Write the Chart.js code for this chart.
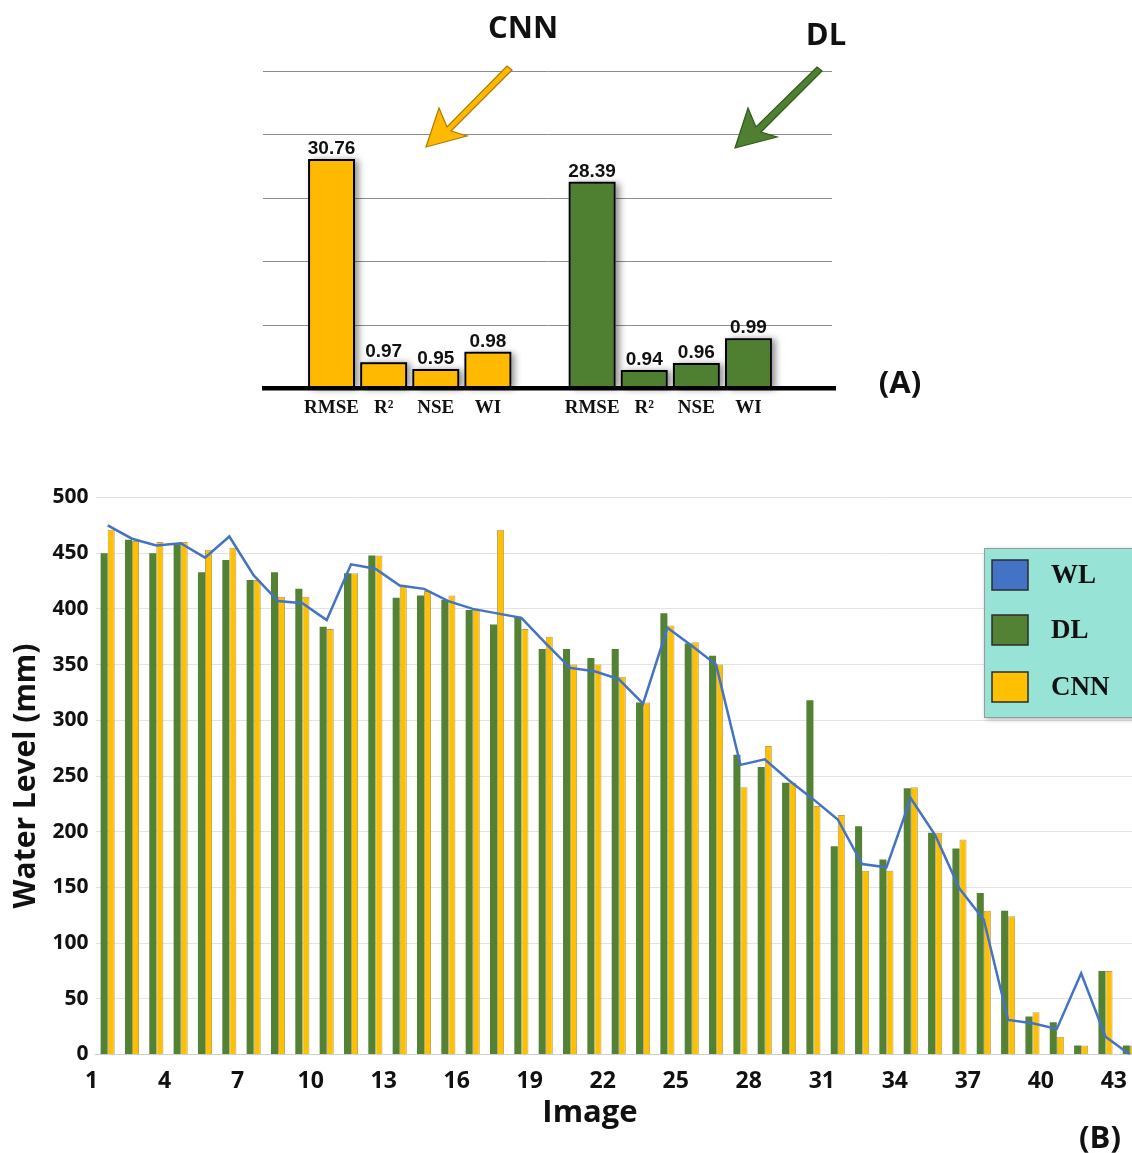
<!DOCTYPE html>
<html>
<head>
<meta charset="utf-8">
<script src="https://cdn.jsdelivr.net/npm/chart.js@4.4.1/dist/chart.umd.min.js"></script>
<style>
  html, body { margin:0; padding:0; background:#ffffff; overflow:hidden; width:1132px; height:1153px; }
  #chartA { position:absolute; left:0; top:0; }
  #chartB { position:absolute; left:0; top:440px; }
  canvas { display:block; }
</style>
</head>
<body>
<canvas id="chartA" width="1132" height="440"></canvas>
<canvas id="chartB" width="1145" height="713"></canvas>
<script>
// ---------------- Panel (A): performance metrics ----------------
const metricNames = ['RMSE', 'R²', 'NSE', 'WI'];
const cnnScores = [30.76, 0.97, 0.95, 0.98];
const dlScores  = [28.39, 0.94, 0.96, 0.99];
// bar heights as drawn in the figure (the small metrics are drawn enlarged)
const cnnBarHeights = [31.06, 3.49, 2.58, 4.92];
const dlBarHeights  = [27.98, 2.44, 3.39, 6.74];
const panelAGrid = [8.6, 17.2, 25.8, 34.4, 43];

// ---------------- Panel (B): water level per image ----------------
const imageLabels = ['1','2','3','4','5','6','7','8','9','10','11','12','13','14','15','16','17','18','19','20','21','22','23','24','25','26','27','28','29','30','31','32','33','34','35','36','37','38','39','40','41','42','43'];
const wlValues  = [475,463,457,459,446,465,430,407,405,390,440,436,421,418,407,400,396,392,369,347,344,337,315,383,367,350,260,265,246,229,211,171,168,230,197,149,121,31,28,23,73,16,0];
const dlValues  = [450,462,450,458,433,444,426,433,418,384,432,448,410,412,408,399,386,393,364,364,356,364,316,396,369,358,269,258,244,318,187,205,175,239,199,185,145,129,34,29,8,75,8];
const cnnValues = [471,461,460,460,453,455,426,411,411,382,432,448,420,416,412,399,471,382,375,350,350,339,316,385,370,350,240,277,244,223,215,165,165,240,199,193,129,124,38,16,8,75,8];
const yTicksB = { min: 0, max: 500, step: 50 };

const COL_A_CNN = '#FFB900';
const COL_A_DL  = '#4F7F31';
const COL_WL  = '#4472C4';
const COL_DL  = '#548235';
const COL_CNN = '#FFC000';

// ---------- Panel A chart ----------
const labelsA = [...metricNames, '', ...metricNames];
const pad = n => Array(n).fill(null);
const cnnDataA = [...cnnBarHeights, ...pad(5)];
const dlDataA  = [...pad(5), ...dlBarHeights];

function drawArrow(ctx, pts, fill, stroke) {
  ctx.save();
  ctx.beginPath();
  ctx.moveTo(pts[0][0], pts[0][1]);
  for (let i = 1; i < pts.length; i++) ctx.lineTo(pts[i][0], pts[i][1]);
  ctx.closePath();
  ctx.fillStyle = fill;
  ctx.fill();
  ctx.lineWidth = 1.2;
  ctx.strokeStyle = stroke;
  ctx.stroke();
  ctx.restore();
}

const panelAPlugin = {
  id: 'panelA',
  beforeDatasetsDraw(chart) {
    const { ctx } = chart;
    const y = chart.scales.y;
    ctx.save();
    ctx.strokeStyle = '#8c8c8c';
    ctx.lineWidth = 1;
    panelAGrid.forEach(v => {
      const py = Math.round(y.getPixelForValue(v)) + 0.5;
      ctx.beginPath(); ctx.moveTo(263, py); ctx.lineTo(832, py); ctx.stroke();
    });
    // soft shadows under the bars
    ctx.shadowColor = 'rgba(0,0,0,0.45)';
    ctx.shadowBlur = 7;
    ctx.shadowOffsetX = 4;
    ctx.shadowOffsetY = 1;
    ctx.fillStyle = '#555';
    chart.data.datasets.forEach((ds, di) => {
      chart.getDatasetMeta(di).data.forEach((el, i) => {
        if (ds.data[i] == null) return;
        const p = el.getProps(['x', 'y', 'base', 'width'], true);
        ctx.fillRect(p.x - p.width / 2, p.y, p.width, p.base - p.y);
      });
    });
    ctx.restore();
  },
  afterDatasetsDraw(chart) {
    const { ctx } = chart;
    const y = chart.scales.y;
    ctx.save();
    ctx.fillStyle = '#000';
    const by = y.getPixelForValue(0);
    ctx.fillRect(262, by - 2, 574, 4.5);
    ctx.font = 'bold 19px "Liberation Sans", Arial, sans-serif';
    ctx.textAlign = 'center';
    ctx.textBaseline = 'alphabetic';
    ctx.fillStyle = '#111';
    chart.data.datasets.forEach((ds, di) => {
      const meta = chart.getDatasetMeta(di);
      let k = 0;
      meta.data.forEach((el, i) => {
        if (ds.data[i] == null) return;
        const s = ds.scores[k++];
        ctx.fillText(s.toFixed(2), el.x, el.y - 5);
      });
    });
    ctx.font = 'bold 31px "Open Sans", "Noto Sans", sans-serif';
    ctx.textBaseline = 'middle';
    ctx.fillText('CNN', 523, 29);
    ctx.fillText('DL', 826, 36);
    ctx.fillText('(A)', 900, 384);
    ctx.restore();
    drawArrow(ctx, [[512,70],[507,66],[447,127],[439,108],[426,147],[467,136],[451,131]], COL_A_CNN, '#b07800');
    drawArrow(ctx, [[822,71],[817,67],[756,127],[748,108],[735,148],[777,137],[761,132]], COL_A_DL, '#2f5a1a');
  }
};

new Chart(document.getElementById('chartA'), {
  type: 'bar',
  data: {
    labels: labelsA,
    datasets: [
      { label: 'CNN', data: cnnDataA, scores: cnnScores, backgroundColor: COL_A_CNN, borderColor: '#000', borderWidth: 2, grouped: false, categoryPercentage: 1, barPercentage: 0.9 },
      { label: 'DL',  data: dlDataA,  scores: dlScores,  backgroundColor: COL_A_DL,  borderColor: '#000', borderWidth: 2, grouped: false, categoryPercentage: 1, barPercentage: 0.9 }
    ]
  },
  options: {
    responsive: false, animation: false, devicePixelRatio: 1,
    layout: { padding: { left: 305.5, right: 357.5, top: 71, bottom: 0 } },
    plugins: { legend: { display: false }, tooltip: { enabled: false } },
    scales: {
      x: {
        grid: { display: false, drawTicks: false }, border: { display: false },
        ticks: { font: { family: '"Liberation Serif", "Times New Roman", serif', weight: 'bold', size: 19 }, color: '#111', padding: 9, autoSkip: false, maxRotation: 0 },
        afterFit: s => { s.height = 52; }
      },
      y: { display: false, min: 0, max: 43 }
    }
  },
  plugins: [panelAPlugin]
});

// ---------- Panel B chart ----------
const panelBPlugin = {
  id: 'panelB',
  afterDraw(chart) {
    const { ctx } = chart;
    const T = 440;
    ctx.save();
    ctx.font = 'bold 31px "Open Sans", "Noto Sans", sans-serif';
    ctx.fillStyle = '#111';
    ctx.textAlign = 'center';
    ctx.textBaseline = 'middle';
    ctx.fillText('Image', 590, 1113 - T);
    ctx.fillText('(B)', 1100, 1139 - T);
    ctx.shadowColor = 'rgba(0,0,0,0.35)';
    ctx.shadowBlur = 5;
    ctx.shadowOffsetX = 2;
    ctx.shadowOffsetY = 2;
    ctx.fillStyle = '#97E4D6';
    ctx.fillRect(984, 548 - T, 170, 169);
    ctx.shadowColor = 'transparent';
    ctx.strokeStyle = '#9a9a9a';
    ctx.lineWidth = 1;
    ctx.strokeRect(984.5, 548.5 - T, 170, 169);
    const items = [
      { text: chart.data.datasets[0].label, color: COL_WL, y: 575 },
      { text: chart.data.datasets[1].label, color: COL_DL, y: 630 },
      { text: chart.data.datasets[2].label, color: COL_CNN, y: 687 }
    ];
    ctx.font = 'bold 27px "Liberation Serif", "Times New Roman", serif';
    ctx.textAlign = 'left';
    items.forEach(it => {
      ctx.fillStyle = it.color;
      ctx.fillRect(992, it.y - 15 - T, 36, 30);
      ctx.strokeStyle = '#2b2b2b';
      ctx.lineWidth = 1.5;
      ctx.strokeRect(992, it.y - 15 - T, 36, 30);
      ctx.fillStyle = '#111';
      ctx.fillText(it.text, 1051, it.y + 1 - T);
    });
    ctx.restore();
  }
};

new Chart(document.getElementById('chartB'), {
  data: {
    labels: imageLabels,
    datasets: [
      { type: 'line', label: 'WL', data: wlValues, borderColor: COL_WL, borderWidth: 2.5, pointRadius: 0, tension: 0, fill: false, order: 0 },
      { type: 'bar', label: 'DL', data: dlValues, backgroundColor: COL_DL, borderWidth: 0, categoryPercentage: 0.58, barPercentage: 1, order: 1 },
      { type: 'bar', label: 'CNN', data: cnnValues, backgroundColor: COL_CNN, borderColor: 'rgba(160,125,40,0.75)', borderWidth: 1, categoryPercentage: 0.58, barPercentage: 1, order: 1 }
    ]
  },
  options: {
    responsive: false, animation: false, devicePixelRatio: 1,
    layout: { padding: { left: 0, right: 3, top: 57.5, bottom: 0 } },
    plugins: { legend: { display: false }, tooltip: { enabled: false } },
    scales: {
      x: {
        grid: { display: false, drawTicks: false },
        border: { display: true, color: '#cfcfcf', width: 1 },
        ticks: {
          font: { family: '"Open Sans", "Noto Sans", sans-serif', weight: 'bold', size: 23 }, color: '#111',
          padding: 13, autoSkip: false, maxRotation: 0, labelOffset: -16,
          callback: function(v, i) { return i % 3 === 0 ? this.getLabelForValue(v) : ''; }
        },
        afterFit: s => { s.height = 98.5; s.paddingLeft = 0; s.paddingRight = 0; }
      },
      y: {
        min: yTicksB.min, max: yTicksB.max,
        grid: { color: '#e3e3e3', lineWidth: 1, drawTicks: false },
        border: { display: false },
        ticks: { stepSize: yTicksB.step, font: { family: '"Open Sans", "Noto Sans", sans-serif', weight: 'bold', size: 21 }, color: '#111', padding: 7 },
        title: { display: true, text: 'Water Level (mm)', font: { family: '"Open Sans", "Noto Sans", sans-serif', weight: 'bold', size: 30 }, color: '#111', padding: { top: 8, bottom: 0 } },
        afterFit: s => { s.width = 95.5; s.paddingTop = 0; s.paddingBottom = 0; }
      }
    }
  },
  plugins: [panelBPlugin]
});
</script>
</body>
</html>
